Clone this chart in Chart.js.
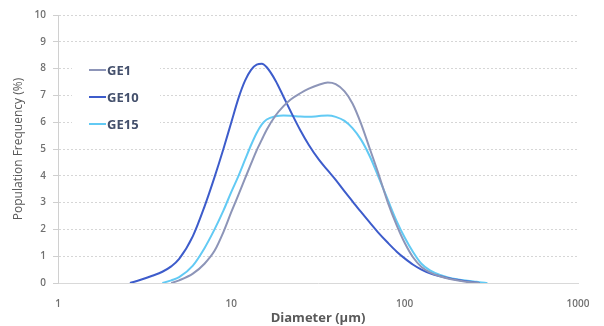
<!DOCTYPE html>
<html>
<head>
<meta charset="utf-8">
<script src="https://cdn.jsdelivr.net/npm/chart.js@4.4.1/dist/chart.umd.min.js"></script>
<style>
  html, body { margin: 0; padding: 0; background: #fff; }
  #wrap { width: 604px; height: 326px; }
</style>
</head>
<body>
<div id="wrap"><canvas id="psd"></canvas></div>
<script>
// particle size classes (um) and population frequency (%) per sample
var diameters = [2.6, 3, 3.5, 4, 4.5, 5, 6, 7, 8, 9, 10, 11, 12, 13, 14, 15, 16, 18, 20, 22, 25, 28, 32, 36, 40, 45, 50, 56, 63, 70, 80, 90, 100, 112, 125, 140, 160, 180, 200, 225, 250, 270, 300];
var ge1  = [null, null, null, null, 0, 0.1, 0.35, 0.72, 1.2, 1.9, 2.65, 3.3, 3.9, 4.45, 4.95, 5.35, 5.72, 6.25, 6.6, 6.85, 7.08, 7.25, 7.4, 7.48, 7.42, 7.15, 6.7, 5.95, 5.0, 4.15, 3.0, 2.15, 1.5, 0.95, 0.6, 0.4, 0.25, 0.16, 0.1, 0.05, 0.02, 0, null];
var ge10 = [0, 0.12, 0.27, 0.42, 0.62, 0.9, 1.75, 2.85, 3.95, 5.0, 6.0, 6.9, 7.55, 7.95, 8.15, 8.18, 8.05, 7.55, 6.95, 6.4, 5.7, 5.15, 4.6, 4.2, 3.85, 3.42, 3.05, 2.65, 2.25, 1.9, 1.5, 1.17, 0.92, 0.68, 0.5, 0.36, 0.25, 0.18, 0.12, 0.07, 0.03, 0, null];
var ge15 = [null, null, null, 0, 0.1, 0.22, 0.65, 1.3, 2.0, 2.7, 3.4, 4.0, 4.6, 5.15, 5.6, 5.92, 6.1, 6.22, 6.25, 6.24, 6.21, 6.2, 6.23, 6.25, 6.2, 6.05, 5.78, 5.35, 4.72, 4.02, 3.1, 2.3, 1.7, 1.15, 0.72, 0.47, 0.3, 0.2, 0.14, 0.09, 0.06, 0.03, 0];
var xTicks = [1, 10, 100, 1000];
var yTicks = [0, 1, 2, 3, 4, 5, 6, 7, 8, 9, 10];

function toPoints(values) {
    var pts = [];
    for (var i = 0; i < diameters.length; i++) {
        if (values[i] !== null) pts.push({x: diameters[i], y: values[i]});
    }
    return pts;
}

var fontFamily = '"Open Sans", "Liberation Sans", sans-serif';

// legend drawn inside the plot, over the gridlines
var insideLegend = {
    id: 'insideLegend',
    afterDraw: function(chart) {
        var ctx = chart.ctx;
        var rows = [70, 97, 124];
        ctx.save();
        ctx.fillStyle = '#ffffff';
        ctx.fillRect(72, 58, 88, 78);
        ctx.font = 'bold 13px ' + fontFamily;
        ctx.textBaseline = 'middle';
        chart.data.datasets.forEach(function(ds, i) {
            ctx.strokeStyle = ds.borderColor;
            ctx.lineWidth = 2;
            ctx.beginPath();
            ctx.moveTo(89, rows[i]);
            ctx.lineTo(106, rows[i]);
            ctx.stroke();
            ctx.fillStyle = '#44506c';
            ctx.fillText(ds.label, 107, rows[i] + 1);
        });
        ctx.restore();
    }
};

var ctx = document.getElementById('psd').getContext('2d');
var chart = new Chart(ctx, {
    type: 'line',
    data: {
        datasets: [
            {label: 'GE1', data: toPoints(ge1), borderColor: '#8d95b8'},
            {label: 'GE10', data: toPoints(ge10), borderColor: '#3d5ccb'},
            {label: 'GE15', data: toPoints(ge15), borderColor: '#62caf4'}
        ]
    },
    options: {
        responsive: true,
        maintainAspectRatio: false,
        animation: false,
        layout: {padding: {left: 0, right: 26, top: 15, bottom: 0}},
        elements: {
            point: {radius: 0},
            line: {borderWidth: 2, cubicInterpolationMode: 'monotone', fill: false}
        },
        plugins: {
            legend: {display: false},
            tooltip: {enabled: false}
        },
        scales: {
            x: {
                type: 'logarithmic',
                min: 1,
                max: 1000,
                afterBuildTicks: function(scale) {
                    scale.ticks = xTicks.map(function(v) { return {value: v}; });
                },
                afterFit: function(scale) { scale.height = 43; },
                grid: {display: false},
                border: {display: true, color: '#d9d9d9'},
                ticks: {
                    padding: 7,
                    color: '#707070',
                    font: {family: fontFamily, size: 10, weight: '600'},
                    callback: function(v) { return String(v); }
                },
                title: {
                    display: true,
                    text: 'Diameter (µm)',
                    color: '#595959',
                    padding: {top: 1, bottom: 0},
                    font: {family: fontFamily, size: 13, weight: 'bold'}
                }
            },
            y: {
                min: 0,
                max: 10,
                afterBuildTicks: function(scale) {
                    scale.ticks = yTicks.map(function(v) { return {value: v}; });
                },
                afterFit: function(scale) { scale.width = 58; },
                grid: {
                    color: '#d6d6d6',
                    tickLength: 5,
                    tickColor: '#cfcfcf'
                },
                border: {display: true, color: '#d0d0d0', dash: [2, 2]},
                ticks: {
                    padding: 7,
                    color: '#707070',
                    font: {family: fontFamily, size: 10, weight: '600'}
                },
                title: {
                    display: true,
                    text: 'Population Frequency (%)',
                    color: '#595959',
                    padding: {top: 11, bottom: 0},
                    font: {family: fontFamily, size: 12}
                }
            }
        }
    },
    plugins: [insideLegend]
});
</script>
</body>
</html>
